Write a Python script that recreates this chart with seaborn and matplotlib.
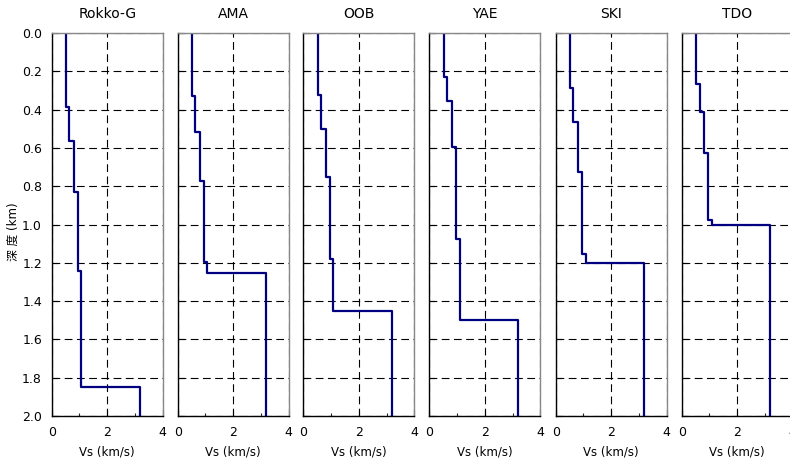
import seaborn as sns
import pandas as pd
import matplotlib.pyplot as plt
from matplotlib.ticker import MultipleLocator, FormatStrFormatter

# Vs (km/s) of each layer, and depth (km) of the layer boundaries
sites = ['Rokko-G', 'AMA', 'OOB', 'YAE', 'SKI', 'TDO']
vs = {
    'Rokko-G': [0.50, 0.62, 0.79, 0.94, 1.07, 3.18],
    'AMA':     [0.50, 0.63, 0.80, 0.94, 1.06, 3.17],
    'OOB':     [0.53, 0.65, 0.82, 0.96, 1.08, 3.20],
    'YAE':     [0.53, 0.65, 0.83, 0.95, 1.10, 3.20],
    'SKI':     [0.52, 0.64, 0.82, 0.95, 1.08, 3.19],
    'TDO':     [0.50, 0.66, 0.80, 0.95, 1.09, 3.18],
}
bounds = {
    'Rokko-G': [0.385, 0.566, 0.829, 1.241, 1.85],
    'AMA':     [0.329, 0.515, 0.771, 1.197, 1.252],
    'OOB':     [0.324, 0.50, 0.75, 1.178, 1.452],
    'YAE':     [0.23, 0.353, 0.594, 1.077, 1.50],
    'SKI':     [0.287, 0.463, 0.724, 1.154, 1.20],
    'TDO':     [0.268, 0.413, 0.625, 0.977, 1.00],
}
max_depth = 2.0


def profile(site):
    tops = [0.0] + bounds[site]
    bots = bounds[site] + [max_depth]
    rows = []
    for v, t, b in zip(vs[site], tops, bots):
        rows.append({'vs': v, 'depth': t})
        rows.append({'vs': v, 'depth': b})
    return pd.DataFrame(rows)


sns.set_theme(style='ticks')
plt.rcParams['font.family'] = ['DejaVu Sans', 'Noto Sans CJK JP']
plt.rcParams['text.color'] = 'black'
plt.rcParams['axes.labelcolor'] = 'black'

fig = plt.figure(figsize=(7.9, 4.63), dpi=100)
W, H = 790.0, 463.0
lefts = [51.7, 177.7, 303.3, 429.3, 555.7, 681.7]
top_px, bot_px, width_px = 33.0, 416.0, 111.0

for i, site in enumerate(sites):
    ax = fig.add_axes([lefts[i] / W, 1 - bot_px / H, width_px / W, (bot_px - top_px) / H])
    sns.lineplot(data=profile(site), x='vs', y='depth', sort=False,
                 estimator=None, color='#000080', linewidth=1.6, ax=ax)
    ax.set_xlim(0, 4)
    ax.set_ylim(max_depth, 0)
    ax.xaxis.set_major_locator(MultipleLocator(2))
    ax.xaxis.set_minor_locator(MultipleLocator(1))
    ax.yaxis.set_major_locator(MultipleLocator(0.2))
    ax.yaxis.set_major_formatter(FormatStrFormatter('%.1f'))
    ax.grid(True, which='major', color='black', linestyle=(0, (7, 4)), linewidth=0.8)
    ax.tick_params(direction='in', labelsize=9, length=4, width=0.8, colors='black')
    ax.tick_params(which='minor', direction='in', length=2, width=0.8)
    ax.tick_params(axis='x', pad=7)
    ax.tick_params(axis='y', pad=7)
    for s in ['left', 'bottom']:
        ax.spines[s].set_color('black')
        ax.spines[s].set_linewidth(1.0)
    for s in ['top', 'right']:
        ax.spines[s].set_visible(True)
        ax.spines[s].set_color('#888888')
        ax.spines[s].set_linewidth(1.0)
    ax.set_title(site, fontsize=10, pad=11, color='black')
    ax.set_xlabel('Vs (km/s)', fontsize=8.5, labelpad=5)
    if i == 0:
        ax.set_ylabel('深 度 (km)', fontsize=8.5)
        ax.yaxis.set_label_coords(-0.29, 0.48)
    else:
        ax.set_ylabel('')
        ax.tick_params(axis='y', labelleft=False)

fig.savefig('out.png', dpi=100)
